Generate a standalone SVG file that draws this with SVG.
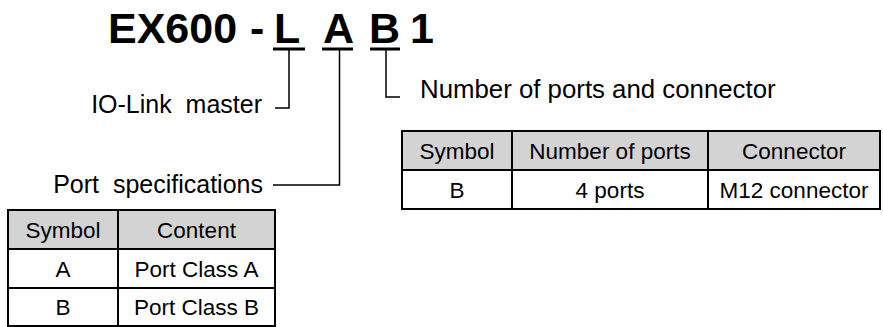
<svg xmlns="http://www.w3.org/2000/svg" width="883" height="327" viewBox="0 0 883 327">
<style>
.t{font-family:"Liberation Sans",Arial,sans-serif;font-weight:bold;font-size:43px;fill:#000}
.lb{font-family:"Liberation Sans",Arial,sans-serif;font-size:25px;fill:#000;white-space:pre}
.tx{font-family:"Liberation Sans",Arial,sans-serif;font-size:22.5px;fill:#000;text-anchor:middle}
.ln{stroke:#000;stroke-width:1.5;fill:none}
.ul{stroke:#000;stroke-width:3;fill:none}
.hd{fill:#d3d3d3}
.bd{stroke:#000;stroke-width:2;fill:none}
</style>
<g id="title">
<text class="t" x="108" y="43">EX600</text>
<text class="t" x="250" y="43">-</text>
<text class="t" x="274" y="43">L</text>
<text class="t" x="323" y="43">A</text>
<text class="t" x="369" y="43">B</text>
<text class="t" x="410" y="43">1</text>
<line class="ul" x1="273" y1="49" x2="305" y2="49"/>
<line class="ul" x1="322" y1="49" x2="353" y2="49"/>
<line class="ul" x1="370" y1="49" x2="400" y2="49"/>
</g>
<g id="connectors">
<polyline class="ln" points="289,50 289,108 275,108"/>
<polyline class="ln" points="339.5,50 339.5,185 273,185"/>
<polyline class="ln" points="386,50 386,97 400,97"/>
</g>
<g id="io-link">
<text class="lb" x="262" y="113" text-anchor="end" xml:space="preserve">IO-Link  master</text>
</g>
<g id="ports-label">
<text class="lb" x="420" y="98" style="font-size:25.8px">Number of ports and connector</text>
</g>
<g id="port-spec-label">
<text class="lb" x="263" y="193" text-anchor="end" xml:space="preserve">Port  specifications</text>
</g>
<g id="table-port-spec">
<rect class="hd" x="8" y="210" width="267" height="39"/>
<rect class="bd" x="8" y="210" width="267" height="116"/>
<line class="bd" x1="8" y1="249" x2="275" y2="249"/>
<line class="bd" x1="8" y1="288" x2="275" y2="288"/>
<line class="bd" x1="118" y1="210" x2="118" y2="326"/>
<text class="tx" x="63" y="237.5">Symbol</text>
<text class="tx" x="196.5" y="237.5">Content</text>
<text class="tx" x="63" y="276.5">A</text>
<text class="tx" x="196.5" y="276.5">Port Class A</text>
<text class="tx" x="63" y="315">B</text>
<text class="tx" x="196.5" y="315">Port Class B</text>
</g>
<g id="table-ports">
<rect class="hd" x="402" y="131" width="478" height="39"/>
<rect class="bd" x="402" y="131" width="478" height="78"/>
<line class="bd" x1="402" y1="170" x2="880" y2="170"/>
<line class="bd" x1="512" y1="131" x2="512" y2="209"/>
<line class="bd" x1="708" y1="131" x2="708" y2="209"/>
<text class="tx" x="457" y="158.5">Symbol</text>
<text class="tx" x="610" y="158.5">Number of ports</text>
<text class="tx" x="794" y="158.5">Connector</text>
<text class="tx" x="457" y="197.5">B</text>
<text class="tx" x="610" y="197.5">4 ports</text>
<text class="tx" x="794" y="197.5">M12 connector</text>
</g>
</svg>
